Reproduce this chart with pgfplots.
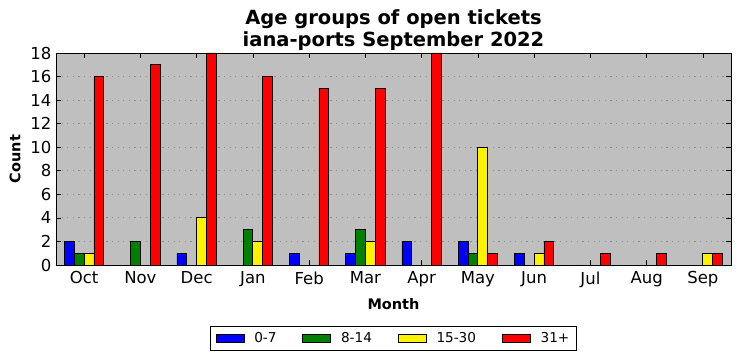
\documentclass[border=0pt]{standalone}
\usepackage{fontspec}
\setmainfont{DejaVu Sans}
\usepackage{pgfplots}
\pgfplotsset{compat=1.18}
\usepackage{pgfplotstable}
\definecolor{mplgreen}{RGB}{0,128,0}
\definecolor{mplsilver}{RGB}{191,191,191}
\pgfplotstableread{
x a b c d
0 2 1 1 16
1 0 2 0 17
2 1 0 4 18
3 0 3 2 16
4 1 0 0 15
5 1 3 2 15
6 2 0 0 18
7 2 1 10 1
8 1 0 1 2
9 0 0 0 1
10 0 0 0 1
11 0 0 1 1
}\datatable
\begin{document}
\begin{tikzpicture}
\useasboundingbox (-56bp,-96bp) rectangle (685bp,265bp);
\begin{axis}[
  at={(0,0)}, anchor=south west,
  scale only axis, width=675bp, height=212bp,
  xmin=-0.5, xmax=11.5, ymin=0, ymax=18,
  axis background/.style={fill=mplsilver},
  axis line style={black, line width=0.8bp},
  ybar=0pt, bar width=0.175,
  xtick={0,...,11},
  xticklabels={Oct,Nov,Dec,Jan,Feb,Mar,Apr,May,Jun,Jul,Aug,Sep},
  ytick={0,2,...,18},
  major tick length=5bp,
  tick style={black, line width=0.6bp},
  tick align=inside,
  /pgf/number format/assume math mode=true,
  ticklabel style={font=\fontsize{16.5bp}{19bp}\selectfont},
  xticklabel style={yshift=-3bp},
  yticklabel style={xshift=-1bp},
  ymajorgrids, grid style={black!45, line width=0.8bp, dash pattern=on 1.2bp off 4.4bp},
  title={Age groups of open tickets\\iana-ports September 2022},
  title style={align=center, font=\fontsize{19.5bp}{22bp}\selectfont\bfseries, yshift=-7bp},
  xlabel={Month}, ylabel={Count},
  label style={font=\fontsize{14.5bp}{17bp}\selectfont\bfseries},
  xlabel style={yshift=-4bp},
  ylabel style={yshift=3bp},
  legend columns=4,
  legend style={at={(0.5,-0.347)}, anchor=center, draw=black, line width=0.8bp,
    font=\fontsize{13.6bp}{16bp}\selectfont,
    /tikz/every odd column/.append style={column sep=8bp},
    /tikz/every even column/.append style={column sep=24bp},
    inner xsep=5bp, inner ysep=4.5bp},
  legend image code/.code={\draw[#1, line width=0.6bp] (0bp,-4bp) rectangle (28bp,4bp);},
  every axis plot/.append style={draw=black, line width=0.8bp},
]
\addplot[fill=blue] table[x=x,y=a]{\datatable};
\addplot[fill=mplgreen] table[x=x,y=b]{\datatable};
\addplot[fill=yellow] table[x=x,y=c]{\datatable};
\addplot[fill=red] table[x=x,y=d]{\datatable};
\legend{0-7,8-14,15-30,31+}
\end{axis}
\end{tikzpicture}
\end{document}
